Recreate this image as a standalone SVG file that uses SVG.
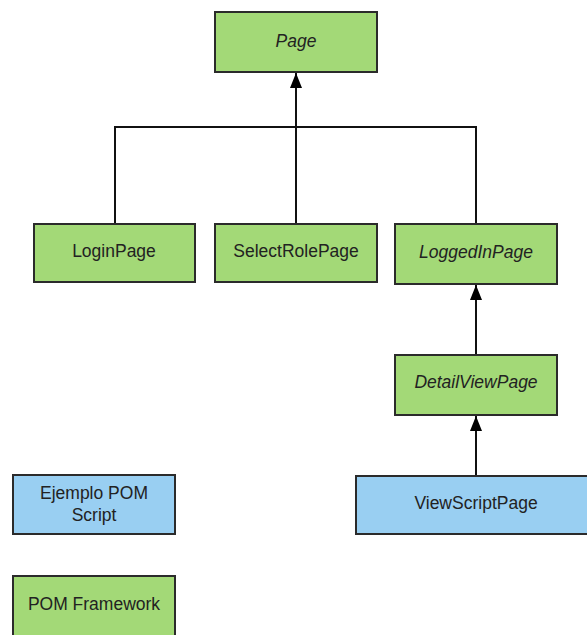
<svg xmlns="http://www.w3.org/2000/svg" width="587" height="635" viewBox="0 0 587 635">
<style>
.n rect{stroke:#2b2b2b;stroke-width:2}
.g{fill:#a3d977}
.b{fill:#99cff2}
text{font-family:"Liberation Sans",Arial,sans-serif;font-size:17.5px;fill:#222;text-anchor:middle}
.i{font-style:italic}
.c{stroke:#111;stroke-width:2;fill:none}
</style>
<defs>
<marker id="a" viewBox="0 0 15 12" refX="15" refY="6" markerWidth="15" markerHeight="12" markerUnits="userSpaceOnUse" orient="auto">
<path d="M0,0 L15,6 L0,12 Z" fill="#000"/>
</marker>
</defs>
<g id="connectors">
<path class="c" d="M115,224 V127 H476 V224"/>
<path class="c" d="M296,224 V73" marker-end="url(#a)"/>
<path class="c" d="M476,355 V285" marker-end="url(#a)"/>
<path class="c" d="M476,475 V416" marker-end="url(#a)"/>
</g>
<g id="page" class="n"><rect class="g" x="215" y="12" width="162" height="60"/><text class="i" x="296" y="47">Page</text></g>
<g id="loginpage" class="n"><rect class="g" x="34" y="224" width="161" height="58"/><text x="114" y="257">LoginPage</text></g>
<g id="selectrolepage" class="n"><rect class="g" x="215" y="224" width="162" height="58"/><text x="296" y="257">SelectRolePage</text></g>
<g id="loggedinpage" class="n"><rect class="g" x="395" y="224" width="162" height="60"/><text class="i" x="476" y="258">LoggedInPage</text></g>
<g id="detailviewpage" class="n"><rect class="g" x="395" y="355" width="162" height="60"/><text class="i" x="476" y="388">DetailViewPage</text></g>
<g id="viewscriptpage" class="n"><rect class="b" x="356" y="476" width="240" height="58"/><text x="476" y="509">ViewScriptPage</text></g>
<g id="legend-script" class="n"><rect class="b" x="13" y="475" width="162" height="59"/><text x="94" y="499">Ejemplo POM</text><text x="94" y="521">Script</text></g>
<g id="legend-framework" class="n"><rect class="g" x="13" y="576" width="162" height="70"/><text x="94" y="610">POM Framework</text></g>
</svg>
